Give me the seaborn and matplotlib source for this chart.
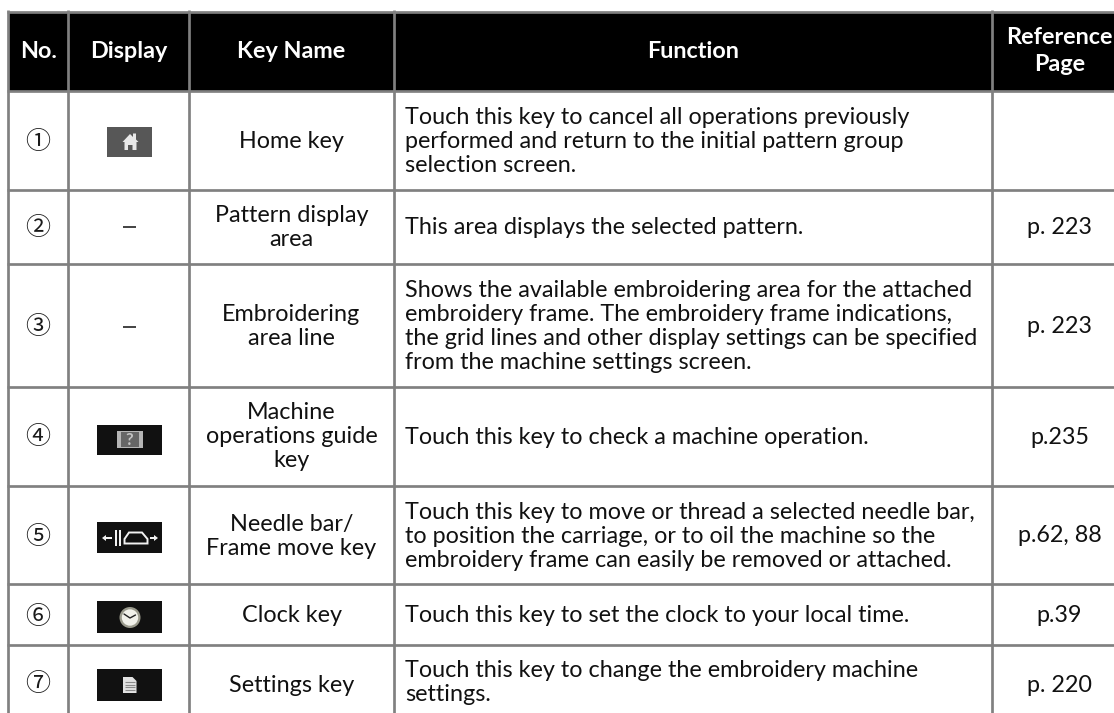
import numpy as np
import matplotlib
matplotlib.use("Agg")
import matplotlib.pyplot as plt
from matplotlib.patches import Rectangle, Polygon, Circle, FancyBboxPatch
import seaborn as sns

headers = ["No.", "Display", "Key Name", "Function", "Reference\nPage"]
numbers = ["①", "②", "③", "④", "⑤", "⑥", "⑦"]
display = ["home", "–", "–", "guide", "move", "clock", "settings"]
key_names = ["Home key", "Pattern display\narea", "Embroidering\narea line",
             "Machine\noperations guide\nkey", "Needle bar/\nFrame move key",
             "Clock key", "Settings key"]
functions = [
    "Touch this key to cancel all operations previously\nperformed and return to the initial pattern group\nselection screen.",
    "This area displays the selected pattern.",
    "Shows the available embroidering area for the attached\nembroidery frame. The embroidery frame indications,\nthe grid lines and other display settings can be specified\nfrom the machine settings screen.",
    "Touch this key to check a machine operation.",
    "Touch this key to move or thread a selected needle bar,\nto position the carriage, or to oil the machine so the\nembroidery frame can easily be removed or attached.",
    "Touch this key to set the clock to your local time.",
    "Touch this key to change the embroidery machine\nsettings.",
]
pages = ["", "p. 223", "p. 223", "p.235", "p.62, 88", "p.39", "p. 220"]

col_edges = [8, 68, 189, 394, 991.5, 1114]
row_edges = [11.5, 91, 189.5, 263.5, 387, 485.5, 584, 645, 713]
key_centres = [140.5, 226, 325.5, 435.5, 535.5, 615, 684]
func_centres = [140.5, 227, 325.5, 436, 535.5, 615, 681.5]
page_centres = [140.5, 227, 325.5, 436, 535, 615, 684.5]
circle_centres = [142, 228, 327.5, 437.5, 536.5, 616.5, 684]
dash_centres = [140.5, 226.5, 326.5, 435.5, 535.5, 615, 684]
icon_spans = {"guide": (424.5, 454.5), "move": (522, 553), "clock": (601, 633), "settings": (669, 701)}

sns.set_theme(style="white")
FONT = "Lato"
FS = 16.8
LINE = 24
GREY = "#808080"
INK = "#111111"

fig = plt.figure(figsize=(11.14, 7.13), dpi=100, facecolor="white")
ax = fig.add_axes([0, 0, 1, 1])
ax.set_xlim(0, 1114)
ax.set_ylim(713, 0)
ax.axis("off")

ax.add_patch(Rectangle((8, 11.5), 1106, 79.5, fc="black", ec="none", zorder=1))
lw = 2.7 * 72 / 100
ax.hlines(row_edges[:-1], 6.6, 1114, color=GREY, lw=lw, zorder=2)
ax.vlines(col_edges[:-1], 10, 713, color=GREY, lw=lw, zorder=2)


def put(x, y, s, ha="center"):
    lines = s.split("\n")
    y0 = y - (len(lines) - 1) * LINE / 2
    for i, ln in enumerate(lines):
        ax.text(x, y0 + i * LINE + 7.5, ln, ha=ha, va="baseline", family=FONT,
                fontsize=FS, color=INK, zorder=3)


centres = [38.5, 129, 291.5, 693, 1059.5]
for c, h in zip(centres, headers):
    parts = h.split("\n")
    ys = [43.5, 71] if len(parts) == 2 else [58]
    for p, yy in zip(parts, ys):
        ax.text(c, yy, p, ha="center", va="baseline", family=FONT, fontsize=16.8,
                fontweight="bold", color="white", zorder=3)

for i in range(7):
    ax.text(38, circle_centres[i], numbers[i], ha="center", va="center",
            family="Noto Sans CJK JP", fontsize=18, color="#1a1a1a", zorder=3)
    put(291.5, key_centres[i], key_names[i])
    put(405, func_centres[i], functions[i], ha="left")
    put(1059.5, page_centres[i], pages[i])
    d = display[i]
    y = dash_centres[i]
    if d == "–":
        ax.hlines(y, 122.5, 136, color="#222222", lw=1.2, zorder=3)
    elif d == "home":
        ax.add_patch(Rectangle((107, 127), 45, 30, fc="#575757", ec="none", zorder=3))
        ax.add_patch(Polygon([(122.5, 142), (130, 134), (133, 137), (133, 133.5), (136, 133.5),
                              (136, 139.5), (138.5, 142), (136.5, 142), (136.5, 150), (132.5, 150),
                              (132.5, 145), (128, 145), (128, 150), (124.5, 150), (124.5, 142)],
                             fc="#e8e8e8", ec="none", zorder=4))
    else:
        a, b = icon_spans[d]
        ax.add_patch(Rectangle((97, a), 65, b - a, fc="#111111", ec="none", zorder=3))
        m = (a + b) / 2
        if d == "guide":
            ax.add_patch(Rectangle((116.5, a + 6.5), 26, 17, fc="#b5b5b5", ec="none", zorder=4))
            ax.add_patch(Rectangle((120.5, a + 7.5), 18, 15, fc="#666666", ec="none", zorder=5))
            ax.text(129.5, a + 15.5, "?", ha="center", va="center", color="#c4c4c4", fontsize=12,
                    fontweight="bold", family=FONT, zorder=6)
        elif d == "move":
            m += 0.5
            for xb in (114.5, 118.5):
                ax.add_patch(Rectangle((xb, m - 8), 2.6, 16, fc="#f2f2f2", ec="none", zorder=4))
            ax.add_patch(Polygon([(124.5, m + 5.5), (124.5, m + 1), (129, m - 5.5), (142, m - 5.5),
                                  (147.5, m + 1), (147.5, m + 5.5)],
                                 fc="none", ec="#f2f2f2", lw=1.4, zorder=4))
            ax.add_patch(Polygon([(102, m), (106, m - 3), (106, m - 1), (112, m - 1), (112, m + 1),
                                  (106, m + 1), (106, m + 3)], fc="#f2f2f2", ec="none", zorder=4))
            ax.add_patch(Polygon([(158, m), (154, m - 3), (154, m - 1), (150, m - 1), (150, m + 1),
                                  (154, m + 1), (154, m + 3)], fc="#f2f2f2", ec="none", zorder=4))
        elif d == "clock":
            ax.add_patch(Circle((130, m + 0.5), 10.5, fc="#9a9a8c", ec="none", zorder=4))
            ax.add_patch(Circle((130, m + 0.5), 8.2, fc="#f1f1ea", ec="none", zorder=5))
            ax.plot([124, 130, 135.5], [m - 3, m + 1, m - 2], color="#222222", lw=1, zorder=6)
        elif d == "settings":
            ax.add_patch(Polygon([(123, a + 8), (132.5, a + 8), (136.5, a + 12), (136.5, a + 24),
                                  (123, a + 24)], fc="#e2e2e2", ec="none", zorder=4))
            ax.hlines([a + 13, a + 15.5, a + 18, a + 20.5], 125, 134.5, color="#8a8a8a",
                      lw=0.8, zorder=5)

fig.savefig("out.png", dpi=100, facecolor="white")
